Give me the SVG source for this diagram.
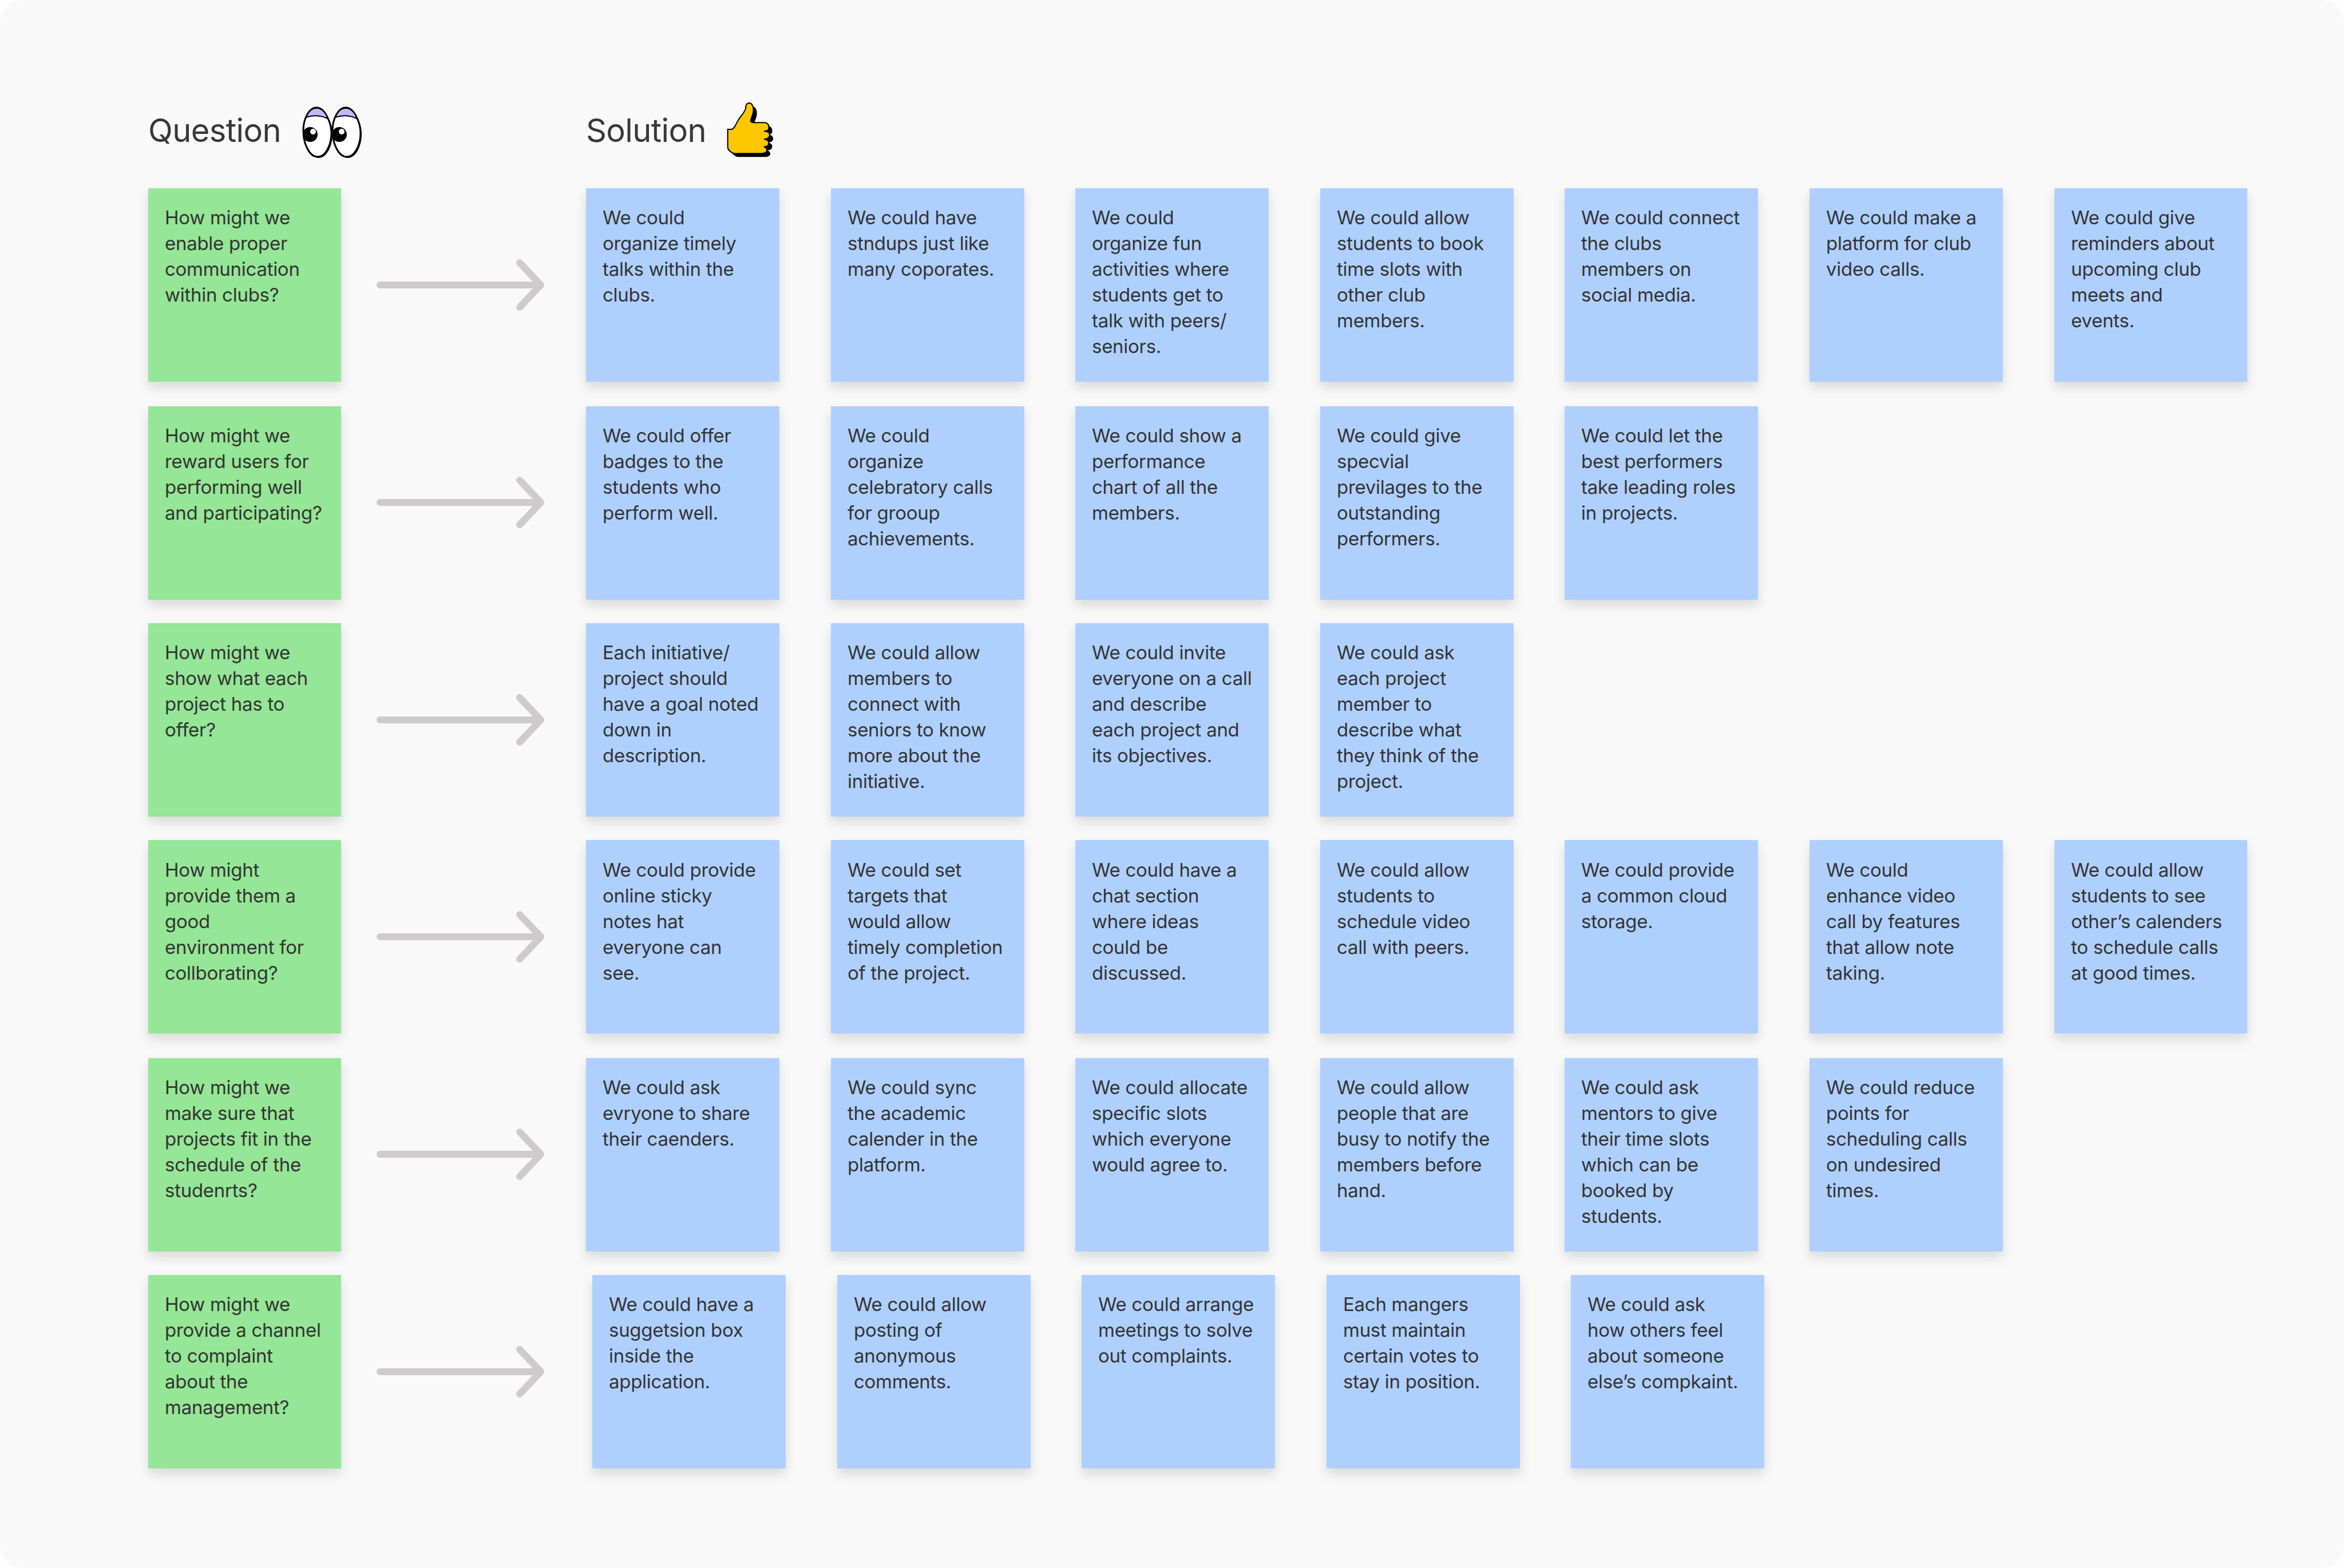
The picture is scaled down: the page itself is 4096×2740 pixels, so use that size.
<svg xmlns="http://www.w3.org/2000/svg" xmlns:xlink="http://www.w3.org/1999/xlink" width="4096" height="2740" viewBox="0 0 4096 2740">
<style>
.h{font-family:Inter,"Liberation Sans",sans-serif;font-size:56px;letter-spacing:-.6px;fill:#383838}
.t{font-family:Inter,"Liberation Sans",sans-serif;font-size:33px;letter-spacing:-.28px;fill:#333}
.g{fill:#95e696;filter:url(#s)}
.b{fill:#afd0ff;filter:url(#s)}
.a{fill:none;stroke:#cdcbcb;stroke-width:12;stroke-linecap:round;stroke-linejoin:round}
</style>
<defs>
<filter id="s" x="-20%" y="-20%" width="140%" height="140%"><feDropShadow dx="0" dy="10" stdDeviation="10" flood-color="#000" flood-opacity=".13"/></filter>
<path id="ar" d="M664 498H942M908 459L945 498L908 537" />
<path id="eye" d="M553 188C568 188 579 215 579 232C579 255 568 274 555 274C540 274 530 250 530 228C530 208 540 188 553 188Z"/>
</defs>
<rect width="4096" height="2740" rx="40" fill="#f9f9f9"/>
<g id="connectors">
<use href="#ar" class="a"/><use href="#ar" class="a" y="380"/><use href="#ar" class="a" y="760"/><use href="#ar" class="a" y="1139"/><use href="#ar" class="a" y="1519"/><use href="#ar" class="a" y="1899"/>
</g>
<g id="head-question"><text class="h" x="259" y="248">Question</text>
<g id="eyes">
<use href="#eye" x="2" y="2" fill="#000"/><use href="#eye" fill="#fff" stroke="#000" stroke-width="3"/>
<path d="M535 205C540 193 546 189 553 189C562 189 570 197 572 207C560 201 545 201 535 205Z" fill="#c4b8fb" stroke="#000" stroke-width="2"/>
<circle cx="542" cy="235" r="13"/><circle cx="547" cy="230" r="5" fill="#fff"/>
<use href="#eye" x="53" y="2" fill="#000"/><use href="#eye" x="51" fill="#fff" stroke="#000" stroke-width="3"/>
<path d="M586 205C591 193 597 189 604 189C613 189 621 197 623 207C611 201 596 201 586 205Z" fill="#c4b8fb" stroke="#000" stroke-width="2"/>
<circle cx="593" cy="235" r="13"/><circle cx="597" cy="230" r="5" fill="#fff"/>
</g></g>
<g id="head-solution"><text class="h" x="1024" y="248">Solution</text>
<g id="thumb" transform="translate(1000 150) scale(.3333)">
<path d="M815 228L835 228C850 225 855 205 870 180C885 155 905 140 910 115C908 98 918 90 928 90C942 92 950 105 950 130C948 155 935 170 935 185C938 192 945 193 955 193L1010 193C1025 195 1032 205 1030 222C1030 232 1025 236 1005 238C1025 238 1035 245 1035 258C1035 272 1025 278 1005 280C1022 282 1032 290 1030 302C1028 315 1020 318 1005 320C1018 325 1022 335 1020 342C1015 352 1005 355 990 355L850 355C830 350 815 335 815 320Z" fill="#000" transform="translate(18 18)"/>
<path d="M815 228L835 228C850 225 855 205 870 180C885 155 905 140 910 115C908 98 918 90 928 90C942 92 950 105 950 130C948 155 935 170 935 185C938 192 945 193 955 193L1010 193C1025 195 1032 205 1030 222C1030 232 1025 236 1005 238C1025 238 1035 245 1035 258C1035 272 1025 278 1005 280C1022 282 1032 290 1030 302C1028 315 1020 318 1005 320C1018 325 1022 335 1020 342C1015 352 1005 355 990 355L850 355C830 350 815 335 815 320Z" fill="#ffc700" stroke="#000" stroke-width="6"/>
</g></g>
<g id="q1"><rect class="g" x="259" y="329" width="337" height="338"/><text class="t" y="392"><tspan x="288">How might we</tspan><tspan x="288" dy="45">enable proper</tspan><tspan x="288" dy="45">communication</tspan><tspan x="288" dy="45">within clubs?</tspan></text></g>
<g id="q2"><rect class="g" x="259" y="710" width="337" height="338"/><text class="t" y="773"><tspan x="288">How might we</tspan><tspan x="288" dy="45">reward users for</tspan><tspan x="288" dy="45">performing well</tspan><tspan x="288" dy="45">and participating?</tspan></text></g>
<g id="q3"><rect class="g" x="259" y="1089" width="337" height="338"/><text class="t" y="1152"><tspan x="288">How might we</tspan><tspan x="288" dy="45">show what each</tspan><tspan x="288" dy="45">project has to</tspan><tspan x="288" dy="45">offer?</tspan></text></g>
<g id="q4"><rect class="g" x="259" y="1468" width="337" height="338"/><text class="t" y="1532"><tspan x="288">How might</tspan><tspan x="288" dy="45">provide them a</tspan><tspan x="288" dy="45">good</tspan><tspan x="288" dy="45">environment for</tspan><tspan x="288" dy="45">collborating?</tspan></text></g>
<g id="q5"><rect class="g" x="259" y="1849" width="337" height="338"/><text class="t" y="1912"><tspan x="288">How might we</tspan><tspan x="288" dy="45">make sure that</tspan><tspan x="288" dy="45">projects fit in the</tspan><tspan x="288" dy="45">schedule of the</tspan><tspan x="288" dy="45">studenrts?</tspan></text></g>
<g id="q6"><rect class="g" x="259" y="2228" width="337" height="338"/><text class="t" y="2291"><tspan x="288">How might we</tspan><tspan x="288" dy="45">provide a channel</tspan><tspan x="288" dy="45">to complaint</tspan><tspan x="288" dy="45">about the</tspan><tspan x="288" dy="45">management?</tspan></text></g>
<g id="s1-1"><rect class="b" x="1024" y="329" width="338" height="338"/><text class="t" y="392"><tspan x="1053">We could</tspan><tspan x="1053" dy="45">organize timely</tspan><tspan x="1053" dy="45">talks within the</tspan><tspan x="1053" dy="45">clubs.</tspan></text></g>
<g id="s1-2"><rect class="b" x="1452" y="329" width="338" height="338"/><text class="t" y="392"><tspan x="1481">We could have</tspan><tspan x="1481" dy="45">stndups just like</tspan><tspan x="1481" dy="45">many coporates.</tspan></text></g>
<g id="s1-3"><rect class="b" x="1879" y="329" width="338" height="338"/><text class="t" y="392"><tspan x="1908">We could</tspan><tspan x="1908" dy="45">organize fun</tspan><tspan x="1908" dy="45">activities where</tspan><tspan x="1908" dy="45">students get to</tspan><tspan x="1908" dy="45">talk with peers/</tspan><tspan x="1908" dy="45">seniors.</tspan></text></g>
<g id="s1-4"><rect class="b" x="2307" y="329" width="338" height="338"/><text class="t" y="392"><tspan x="2336">We could allow</tspan><tspan x="2336" dy="45">students to book</tspan><tspan x="2336" dy="45">time slots with</tspan><tspan x="2336" dy="45">other club</tspan><tspan x="2336" dy="45">members.</tspan></text></g>
<g id="s1-5"><rect class="b" x="2734" y="329" width="338" height="338"/><text class="t" y="392"><tspan x="2763">We could connect</tspan><tspan x="2763" dy="45">the clubs</tspan><tspan x="2763" dy="45">members on</tspan><tspan x="2763" dy="45">social media.</tspan></text></g>
<g id="s1-6"><rect class="b" x="3162" y="329" width="338" height="338"/><text class="t" y="392"><tspan x="3191">We could make a</tspan><tspan x="3191" dy="45">platform for club</tspan><tspan x="3191" dy="45">video calls.</tspan></text></g>
<g id="s1-7"><rect class="b" x="3590" y="329" width="337" height="338"/><text class="t" y="392"><tspan x="3619">We could give</tspan><tspan x="3619" dy="45">reminders about</tspan><tspan x="3619" dy="45">upcoming club</tspan><tspan x="3619" dy="45">meets and</tspan><tspan x="3619" dy="45">events.</tspan></text></g>
<g id="s2-1"><rect class="b" x="1024" y="710" width="338" height="338"/><text class="t" y="773"><tspan x="1053">We could offer</tspan><tspan x="1053" dy="45">badges to the</tspan><tspan x="1053" dy="45">students who</tspan><tspan x="1053" dy="45">perform well.</tspan></text></g>
<g id="s2-2"><rect class="b" x="1452" y="710" width="338" height="338"/><text class="t" y="773"><tspan x="1481">We could</tspan><tspan x="1481" dy="45">organize</tspan><tspan x="1481" dy="45">celebratory calls</tspan><tspan x="1481" dy="45">for grooup</tspan><tspan x="1481" dy="45">achievements.</tspan></text></g>
<g id="s2-3"><rect class="b" x="1879" y="710" width="338" height="338"/><text class="t" y="773"><tspan x="1908">We could show a</tspan><tspan x="1908" dy="45">performance</tspan><tspan x="1908" dy="45">chart of all the</tspan><tspan x="1908" dy="45">members.</tspan></text></g>
<g id="s2-4"><rect class="b" x="2307" y="710" width="338" height="338"/><text class="t" y="773"><tspan x="2336">We could give</tspan><tspan x="2336" dy="45">specvial</tspan><tspan x="2336" dy="45">previlages to the</tspan><tspan x="2336" dy="45">outstanding</tspan><tspan x="2336" dy="45">performers.</tspan></text></g>
<g id="s2-5"><rect class="b" x="2734" y="710" width="338" height="338"/><text class="t" y="773"><tspan x="2763">We could let the</tspan><tspan x="2763" dy="45">best performers</tspan><tspan x="2763" dy="45">take leading roles</tspan><tspan x="2763" dy="45">in projects.</tspan></text></g>
<g id="s3-1"><rect class="b" x="1024" y="1089" width="338" height="338"/><text class="t" y="1152"><tspan x="1053">Each initiative/</tspan><tspan x="1053" dy="45">project should</tspan><tspan x="1053" dy="45">have a goal noted</tspan><tspan x="1053" dy="45">down in</tspan><tspan x="1053" dy="45">description.</tspan></text></g>
<g id="s3-2"><rect class="b" x="1452" y="1089" width="338" height="338"/><text class="t" y="1152"><tspan x="1481">We could allow</tspan><tspan x="1481" dy="45">members to</tspan><tspan x="1481" dy="45">connect with</tspan><tspan x="1481" dy="45">seniors to know</tspan><tspan x="1481" dy="45">more about the</tspan><tspan x="1481" dy="45">initiative.</tspan></text></g>
<g id="s3-3"><rect class="b" x="1879" y="1089" width="338" height="338"/><text class="t" y="1152"><tspan x="1908">We could invite</tspan><tspan x="1908" dy="45">everyone on a call</tspan><tspan x="1908" dy="45">and describe</tspan><tspan x="1908" dy="45">each project and</tspan><tspan x="1908" dy="45">its objectives.</tspan></text></g>
<g id="s3-4"><rect class="b" x="2307" y="1089" width="338" height="338"/><text class="t" y="1152"><tspan x="2336">We could ask</tspan><tspan x="2336" dy="45">each project</tspan><tspan x="2336" dy="45">member to</tspan><tspan x="2336" dy="45">describe what</tspan><tspan x="2336" dy="45">they think of the</tspan><tspan x="2336" dy="45">project.</tspan></text></g>
<g id="s4-1"><rect class="b" x="1024" y="1468" width="338" height="338"/><text class="t" y="1532"><tspan x="1053">We could provide</tspan><tspan x="1053" dy="45">online sticky</tspan><tspan x="1053" dy="45">notes hat</tspan><tspan x="1053" dy="45">everyone can</tspan><tspan x="1053" dy="45">see.</tspan></text></g>
<g id="s4-2"><rect class="b" x="1452" y="1468" width="338" height="338"/><text class="t" y="1532"><tspan x="1481">We could set</tspan><tspan x="1481" dy="45">targets that</tspan><tspan x="1481" dy="45">would allow</tspan><tspan x="1481" dy="45">timely completion</tspan><tspan x="1481" dy="45">of the project.</tspan></text></g>
<g id="s4-3"><rect class="b" x="1879" y="1468" width="338" height="338"/><text class="t" y="1532"><tspan x="1908">We could have a</tspan><tspan x="1908" dy="45">chat section</tspan><tspan x="1908" dy="45">where ideas</tspan><tspan x="1908" dy="45">could be</tspan><tspan x="1908" dy="45">discussed.</tspan></text></g>
<g id="s4-4"><rect class="b" x="2307" y="1468" width="338" height="338"/><text class="t" y="1532"><tspan x="2336">We could allow</tspan><tspan x="2336" dy="45">students to</tspan><tspan x="2336" dy="45">schedule video</tspan><tspan x="2336" dy="45">call with peers.</tspan></text></g>
<g id="s4-5"><rect class="b" x="2734" y="1468" width="338" height="338"/><text class="t" y="1532"><tspan x="2763">We could provide</tspan><tspan x="2763" dy="45">a common cloud</tspan><tspan x="2763" dy="45">storage.</tspan></text></g>
<g id="s4-6"><rect class="b" x="3162" y="1468" width="338" height="338"/><text class="t" y="1532"><tspan x="3191">We could</tspan><tspan x="3191" dy="45">enhance video</tspan><tspan x="3191" dy="45">call by features</tspan><tspan x="3191" dy="45">that allow note</tspan><tspan x="3191" dy="45">taking.</tspan></text></g>
<g id="s4-7"><rect class="b" x="3590" y="1468" width="337" height="338"/><text class="t" y="1532"><tspan x="3619">We could allow</tspan><tspan x="3619" dy="45">students to see</tspan><tspan x="3619" dy="45">other’s calenders</tspan><tspan x="3619" dy="45">to schedule calls</tspan><tspan x="3619" dy="45">at good times.</tspan></text></g>
<g id="s5-1"><rect class="b" x="1024" y="1849" width="338" height="338"/><text class="t" y="1912"><tspan x="1053">We could ask</tspan><tspan x="1053" dy="45">evryone to share</tspan><tspan x="1053" dy="45">their caenders.</tspan></text></g>
<g id="s5-2"><rect class="b" x="1452" y="1849" width="338" height="338"/><text class="t" y="1912"><tspan x="1481">We could sync</tspan><tspan x="1481" dy="45">the academic</tspan><tspan x="1481" dy="45">calender in the</tspan><tspan x="1481" dy="45">platform.</tspan></text></g>
<g id="s5-3"><rect class="b" x="1879" y="1849" width="338" height="338"/><text class="t" y="1912"><tspan x="1908">We could allocate</tspan><tspan x="1908" dy="45">specific slots</tspan><tspan x="1908" dy="45">which everyone</tspan><tspan x="1908" dy="45">would agree to.</tspan></text></g>
<g id="s5-4"><rect class="b" x="2307" y="1849" width="338" height="338"/><text class="t" y="1912"><tspan x="2336">We could allow</tspan><tspan x="2336" dy="45">people that are</tspan><tspan x="2336" dy="45">busy to notify the</tspan><tspan x="2336" dy="45">members before</tspan><tspan x="2336" dy="45">hand.</tspan></text></g>
<g id="s5-5"><rect class="b" x="2734" y="1849" width="338" height="338"/><text class="t" y="1912"><tspan x="2763">We could ask</tspan><tspan x="2763" dy="45">mentors to give</tspan><tspan x="2763" dy="45">their time slots</tspan><tspan x="2763" dy="45">which can be</tspan><tspan x="2763" dy="45">booked by</tspan><tspan x="2763" dy="45">students.</tspan></text></g>
<g id="s5-6"><rect class="b" x="3162" y="1849" width="338" height="338"/><text class="t" y="1912"><tspan x="3191">We could reduce</tspan><tspan x="3191" dy="45">points for</tspan><tspan x="3191" dy="45">scheduling calls</tspan><tspan x="3191" dy="45">on undesired</tspan><tspan x="3191" dy="45">times.</tspan></text></g>
<g id="s6-1"><rect class="b" x="1035" y="2228" width="338" height="338"/><text class="t" y="2291"><tspan x="1064">We could have a</tspan><tspan x="1064" dy="45">suggetsion box</tspan><tspan x="1064" dy="45">inside the</tspan><tspan x="1064" dy="45">application.</tspan></text></g>
<g id="s6-2"><rect class="b" x="1463" y="2228" width="338" height="338"/><text class="t" y="2291"><tspan x="1492">We could allow</tspan><tspan x="1492" dy="45">posting of</tspan><tspan x="1492" dy="45">anonymous</tspan><tspan x="1492" dy="45">comments.</tspan></text></g>
<g id="s6-3"><rect class="b" x="1890" y="2228" width="338" height="338"/><text class="t" y="2291"><tspan x="1919">We could arrange</tspan><tspan x="1919" dy="45">meetings to solve</tspan><tspan x="1919" dy="45">out complaints.</tspan></text></g>
<g id="s6-4"><rect class="b" x="2318" y="2228" width="338" height="338"/><text class="t" y="2291"><tspan x="2347">Each mangers</tspan><tspan x="2347" dy="45">must maintain</tspan><tspan x="2347" dy="45">certain votes to</tspan><tspan x="2347" dy="45">stay in position.</tspan></text></g>
<g id="s6-5"><rect class="b" x="2745" y="2228" width="338" height="338"/><text class="t" y="2291"><tspan x="2774">We could ask</tspan><tspan x="2774" dy="45">how others feel</tspan><tspan x="2774" dy="45">about someone</tspan><tspan x="2774" dy="45">else’s compkaint.</tspan></text></g>
</svg>
